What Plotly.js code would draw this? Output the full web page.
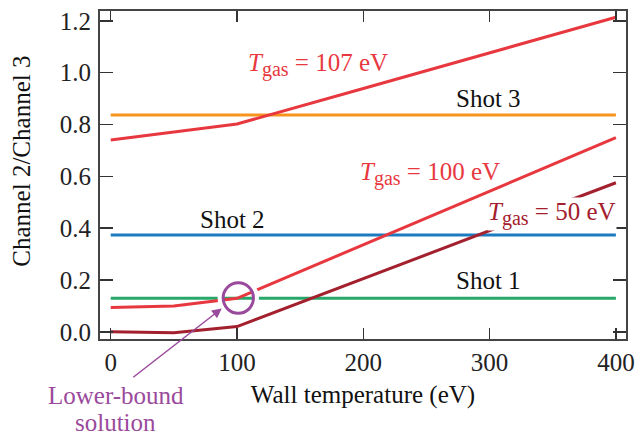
<!DOCTYPE html>
<html>
<head>
<meta charset="utf-8">
<script src="https://cdn.plot.ly/plotly-3.0.1.min.js"></script>
<style>html,body{margin:0;padding:0;background:#fff;}#chart{width:637px;height:436px;}</style>
</head>
<body>
<div id="chart"></div>
<script>
// Wall temperature (eV)
const wallT = [0, 50, 100, 200, 300, 400];
// Channel 2/Channel 3 ratio curves for different gas temperatures
const tgas107 = [0.740, 0.771, 0.802, 0.939, 1.077, 1.214];
const tgas100 = [0.094, 0.099, 0.129, 0.336, 0.542, 0.749];
const tgas50  = [0.000, -0.004, 0.020, 0.205, 0.390, 0.575];
// Measured shots (constant ratios)
const shotX = [0, 400];
const shot1 = [0.129, 0.129];
const shot2 = [0.373, 0.373];
const shot3 = [0.837, 0.837];
// Axis ticks
const xTicks = [0, 100, 200, 300, 400];
const yTicks = [0.0, 0.2, 0.4, 0.6, 0.8, 1.0, 1.2];

const FONT = 'Liberation Serif, Times New Roman, serif';
const FS = 25;
const RED = '#e8383f';
const DARKRED = '#a3202e';
const PURPLE = '#9a4a9c';

const traces = [
  {x: shotX, y: shot3, mode: 'lines', line: {color: '#f7941e', width: 3}},
  {x: shotX, y: shot2, mode: 'lines', line: {color: '#1c7bc0', width: 3}},
  {x: shotX, y: shot1, mode: 'lines', line: {color: '#27a86a', width: 3}},
  {x: wallT, y: tgas107, mode: 'lines', line: {color: RED, width: 3}},
  {x: wallT, y: tgas100, mode: 'lines', line: {color: RED, width: 3}},
  {x: wallT, y: tgas50, mode: 'lines', line: {color: DARKRED, width: 3}}
];

const tgas = v => '<i>T</i><sub><span style="font-size:20px">gas</span></sub> = ' + v + ' eV';

const lab = (t, x, y, color, extra) => Object.assign({
  text: t, x: x, y: y, xref: 'x', yref: 'y', showarrow: false,
  font: {family: FONT, size: FS, color: color}, xanchor: 'center', yanchor: 'middle'
}, extra || {});

const layout = {
  width: 637, height: 436,
  margin: {l: 100, r: 11, t: 11, b: 97},
  paper_bgcolor: '#fff', plot_bgcolor: '#fff',
  showlegend: false,
  font: {family: FONT, size: FS, color: '#222'},
  xaxis: {
    range: [-8.5, 408], tickvals: xTicks, ticktext: xTicks.map(String),
    ticks: 'inside', ticklen: 11, tickwidth: 1.5, tickcolor: '#333',
    showline: true, linecolor: '#444', linewidth: 2, mirror: 'ticks',
    showgrid: false, zeroline: false,
    tickfont: {family: FONT, size: FS, color: '#222'},
    title: {text: 'Wall temperature (eV)', font: {family: FONT, size: FS, color: '#111'}, standoff: 10}
  },
  yaxis: {
    range: [-0.028, 1.238], tickvals: yTicks, ticktext: yTicks.map(v => v.toFixed(1)),
    ticks: 'inside', ticklen: 13, tickwidth: 1.5, tickcolor: '#333',
    showline: true, linecolor: '#444', linewidth: 2, mirror: 'ticks',
    showgrid: false, zeroline: false,
    tickfont: {family: FONT, size: FS, color: '#222'}, ticklabelstandoff: 2
  },
  shapes: [
    {type: 'circle', xref: 'x', yref: 'y', x0: 101 - 14.4, x1: 101 + 14.4, y0: 0.130 - 0.0703, y1: 0.130 + 0.0703,
     line: {color: '#ffffff', width: 5}, layer: 'above'},
    {type: 'circle', xref: 'x', yref: 'y', x0: 101 - 12.0, x1: 101 + 12.0, y0: 0.130 - 0.0587, y1: 0.130 + 0.0587,
     line: {color: PURPLE, width: 3}, layer: 'above'}
  ],
  annotations: [
    {text: 'Channel 2/Channel 3', xref: 'paper', yref: 'paper', x: -0.150, y: 0.541, textangle: -90,
     showarrow: false, xanchor: 'center', yanchor: 'middle', font: {family: FONT, size: FS, color: '#111'}},
    lab(tgas(107), 164.1, 1.03, RED),
    lab('Shot 3', 298.9, 0.902, '#111'),
    lab(tgas(100), 252.8, 0.61, RED),
    lab(tgas(50), 349.4, 0.455, DARKRED, {bgcolor: '#ffffff', borderpad: 0}),
    lab('Shot 2', 96.8, 0.435, '#111'),
    lab('Shot 1', 298.9, 0.196, '#111'),
    {text: '', x: 87.9, y: 0.090, xref: 'x', yref: 'y', showarrow: true, ax: -90, ay: 70,
     arrowhead: 2, arrowsize: 1.3, arrowwidth: 1.5, arrowcolor: PURPLE},
    {text: 'Lower-bound', xref: 'paper', yref: 'paper', x: 0.0304, y: -0.170, height: 24,
     showarrow: false, xanchor: 'center', yanchor: 'middle', font: {family: FONT, size: FS, color: PURPLE}},
    {text: 'solution', xref: 'paper', yref: 'paper', x: 0.0304, y: -0.252, height: 24,
     showarrow: false, xanchor: 'center', yanchor: 'middle', font: {family: FONT, size: FS, color: PURPLE}}
  ]
};

Plotly.newPlot('chart', traces, layout, {staticPlot: true, displayModeBar: false});
</script>
</body>
</html>
